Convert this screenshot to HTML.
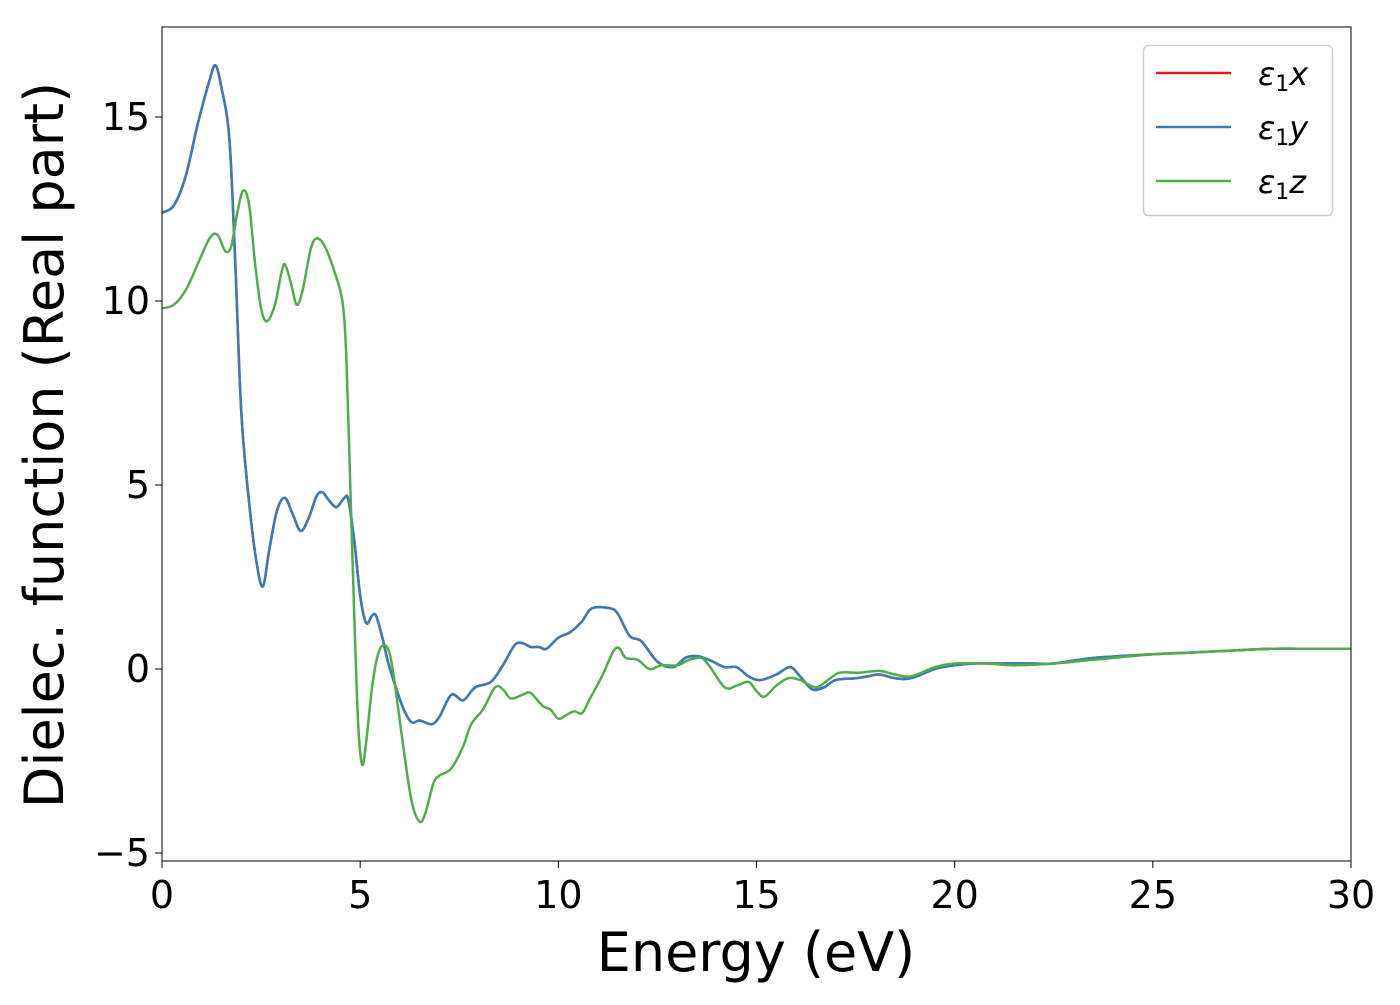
<!DOCTYPE html>
<html><head><meta charset="utf-8"><style>
body{margin:0;background:#fff;width:1400px;height:1000px;overflow:hidden}
svg text{font-family:"DejaVu Sans","Liberation Sans",sans-serif;fill:#000}
</style></head><body>
<svg id="chart" width="1400" height="1000" xmlns="http://www.w3.org/2000/svg">
<g id="plot"></g>
</svg>
<script>
const energyXY=[0,0.3,0.6,0.9,1.2,1.35,1.5,1.7,1.85,2.0,2.2,2.4,2.55,2.7,2.9,3.1,3.3,3.5,3.7,3.9,4.05,4.2,4.4,4.6,4.7,4.85,5.0,5.15,5.3,5.4,5.55,5.7,5.9,6.1,6.3,6.5,6.8,7.0,7.3,7.6,7.9,8.3,8.6,8.9,9.1,9.3,9.5,9.7,10.0,10.3,10.6,10.85,11.3,11.5,11.8,12.1,12.5,12.9,13.2,13.5,13.8,14.2,14.5,14.8,15.1,15.5,15.85,16.1,16.4,16.7,17.0,17.5,17.8,18.1,18.5,18.9,19.5,20,20.5,21,22,22.5,23.5,25,26,27,28,29,30];
const epsX=[12.4,12.6,13.4,14.8,16.0,16.4,15.8,14.4,11,7,4.5,2.8,2.25,3.2,4.3,4.65,4.2,3.75,4.1,4.7,4.8,4.6,4.4,4.65,4.6,3.5,2.0,1.25,1.45,1.45,0.9,0.2,-0.5,-1.1,-1.45,-1.4,-1.5,-1.3,-0.7,-0.85,-0.5,-0.35,0.1,0.65,0.7,0.6,0.6,0.55,0.85,1.0,1.3,1.65,1.65,1.5,0.9,0.75,0.2,0.05,0.3,0.35,0.25,0.05,0.05,-0.2,-0.3,-0.15,0.05,-0.2,-0.55,-0.5,-0.3,-0.25,-0.2,-0.15,-0.25,-0.25,0,0.1,0.15,0.15,0.15,0.15,0.3,0.4,0.45,0.5,0.55,0.55,0.55];
const epsY=epsX.slice();
const energyZ=[0,0.3,0.6,0.9,1.2,1.4,1.6,1.75,1.9,2.05,2.2,2.35,2.5,2.65,2.85,3.0,3.1,3.25,3.4,3.55,3.75,3.9,4.1,4.35,4.55,4.65,4.75,4.85,4.95,5.05,5.15,5.3,5.45,5.6,5.75,5.9,6.1,6.3,6.5,6.65,6.85,7.0,7.3,7.6,7.8,8.1,8.4,8.6,8.8,9.1,9.3,9.6,9.8,10.0,10.2,10.4,10.6,10.8,11.1,11.4,11.55,11.7,12.0,12.3,12.6,13.0,13.3,13.6,13.8,14.2,14.5,14.8,15.0,15.2,15.5,15.8,16.1,16.5,16.8,17.1,17.6,18.1,18.5,18.9,19.5,20,20.8,21.5,22.5,23.5,25,26,27,28,29,30];
const epsZ=[9.8,9.9,10.3,11.0,11.7,11.8,11.35,11.5,12.4,13.0,12.6,11.0,9.8,9.45,9.9,10.7,11.0,10.5,9.9,10.3,11.4,11.7,11.5,10.8,10.0,8.5,5,1.5,-1.5,-2.6,-2.0,-0.5,0.4,0.65,0.4,-0.6,-2.2,-3.6,-4.15,-3.9,-3.1,-2.9,-2.7,-2.1,-1.5,-1.1,-0.5,-0.55,-0.8,-0.7,-0.65,-1.0,-1.1,-1.35,-1.25,-1.15,-1.2,-0.8,-0.2,0.5,0.55,0.3,0.25,0.0,0.1,0.1,0.25,0.3,0.1,-0.5,-0.45,-0.35,-0.6,-0.75,-0.45,-0.25,-0.3,-0.5,-0.3,-0.1,-0.1,-0.05,-0.15,-0.2,0.05,0.15,0.15,0.1,0.15,0.25,0.4,0.45,0.5,0.55,0.55,0.55];
const xTicks=[0,5,10,15,20,25,30];
const yTicks=[-5,0,5,10,15];
const NS="http://www.w3.org/2000/svg";
const L=162,R=1351,T=27,B=861;
const xs=v=>L+(v-0)/30*(R-L);
const ys=v=>669-v*36.8;
const g=document.getElementById('plot');
function mk(tag,attrs,parent){const e=document.createElementNS(NS,tag);for(const k in attrs)e.setAttribute(k,attrs[k]);(parent||g).appendChild(e);return e;}
const defs=mk('defs',{});const cp=mk('clipPath',{id:'clip'},defs);mk('rect',{x:L,y:T,width:R-L,height:B-T},cp);
function pathD(xa,ya){const p=xa.map((x,i)=>[xs(x),ys(ya[i])]);let d='M'+p[0][0]+','+p[0][1];
for(let i=0;i<p.length-1;i++){const p0=p[Math.max(0,i-1)],p1=p[i],p2=p[i+1],p3=p[Math.min(p.length-1,i+2)];
const c1=[p1[0]+(p2[0]-p0[0])/6,p1[1]+(p2[1]-p0[1])/6],c2=[p2[0]-(p3[0]-p1[0])/6,p2[1]-(p3[1]-p1[1])/6];
d+=`C${c1[0]},${c1[1]} ${c2[0]},${c2[1]} ${p2[0]},${p2[1]}`;}return d;}
const series=[['series-eps1x',energyXY,epsX,'#e41a1c'],['series-eps1y',energyXY,epsY,'#377eb8'],['series-eps1z',energyZ,epsZ,'#4daf4a']];
const lg=mk('g',{'clip-path':'url(#clip)'});
series.forEach(s=>{const p=mk('path',{d:pathD(s[1],s[2]),fill:'none',stroke:s[3],'stroke-width':2.5},lg);

});
const frame=mk('rect',{x:L,y:T,width:R-L,height:B-T,fill:'none',stroke:'#000','stroke-width':1});


xTicks.forEach(v=>{mk('line',{x1:xs(v),x2:xs(v),y1:B,y2:B+7,stroke:'#000'});
const t=mk('text',{x:xs(v),y:B+47,'text-anchor':'middle','font-size':38});t.textContent=v;

});
yTicks.forEach(v=>{mk('line',{x1:L-7,x2:L,y1:ys(v),y2:ys(v),stroke:'#000'});
const t=mk('text',{x:L-12,y:ys(v)+13,'text-anchor':'end','font-size':38});t.textContent=v<0?'\u2212'+(-v):v;

});
</script>
<svg style="position:absolute;left:0;top:0" width="1400" height="1000">
<text x="756" y="971" text-anchor="middle" font-size="54">Energy (eV)</text>
<text transform="translate(63,445) rotate(-90)" text-anchor="middle" font-size="54">Dielec. function (Real part)</text>
<g>
<rect x="1143.5" y="45.5" width="189" height="170" rx="5" fill="#fff" stroke="#ccc" stroke-width="1.5"/>
<line x1="1156" x2="1231" y1="73" y2="73" stroke="#e41a1c" stroke-width="2.5"/>
<line x1="1156" x2="1231" y1="127" y2="127" stroke="#377eb8" stroke-width="2.5"/>
<line x1="1156" x2="1231" y1="181" y2="181" stroke="#4daf4a" stroke-width="2.5"/>
<text x="1258" y="85" font-size="32"><tspan font-style="italic">ε</tspan><tspan font-size="22" dy="6">1</tspan><tspan font-style="italic" dy="-6">x</tspan></text>
<text x="1258" y="139" font-size="32"><tspan font-style="italic">ε</tspan><tspan font-size="22" dy="6">1</tspan><tspan font-style="italic" dy="-6">y</tspan></text>
<text x="1258" y="193" font-size="32"><tspan font-style="italic">ε</tspan><tspan font-size="22" dy="6">1</tspan><tspan font-style="italic" dy="-6">z</tspan></text>
</g>
</svg>
</body></html>
